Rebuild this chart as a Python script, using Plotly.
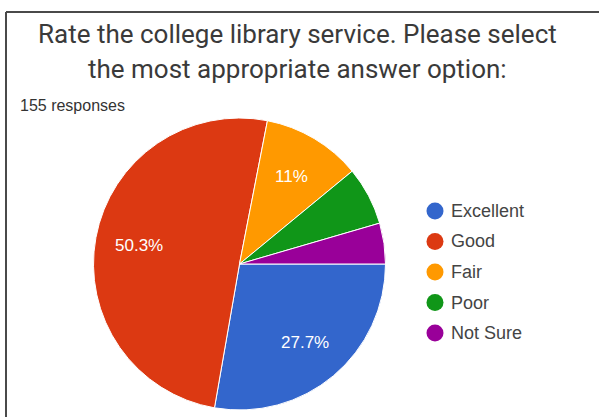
import math
import plotly.graph_objects as go

W, H = 599, 417

categories = ["Excellent", "Good", "Fair", "Poor", "Not Sure"]
responses = [43, 78, 17, 10, 7]
colors = ["#3366CC", "#DC3912", "#FF9900", "#109618", "#990099"]
show_label = [True, True, True, False, False]
title_lines = ["Rate the college library service. Please select",
               "the most appropriate answer option:"]
subtitle = "155 responses"

def px(x):
    return x / W

def py(y):
    return 1 - y / H

# pie box in pixels
PX0, PX1, PY0, PY1 = 92, 387, 118, 410

fig = go.Figure()
fig.add_trace(go.Pie(
    labels=categories,
    values=responses,
    sort=False,
    direction="clockwise",
    rotation=90,
    marker=dict(colors=colors, line=dict(color="white", width=1)),
    textinfo="none",
    domain=dict(x=[px(PX0), px(PX1)], y=[py(PY1), py(PY0)]),
    showlegend=False,
    hoverinfo="label+percent+value",
))

annotations = []

# slice percentage labels (Google-Forms style, at 0.7 radius along mid-angle)
cx, cy = (PX0 + PX1) / 2, (PY0 + PY1) / 2
R = min(PX1 - PX0, PY1 - PY0) / 2
total = sum(responses)
start = 0.0
for v, show in zip(responses, show_label):
    frac = v / total
    mid = start - frac * 180.0
    start -= frac * 360.0
    if not show:
        continue
    pct = f"{frac * 100:.1f}".rstrip("0").rstrip(".") + "%"
    lx = cx + 0.7 * R * math.cos(math.radians(mid))
    ly = cy - 0.7 * R * math.sin(math.radians(mid))
    annotations.append(dict(
        text=pct, x=px(lx), y=py(ly), xref="paper", yref="paper",
        xanchor="center", yanchor="middle", showarrow=False,
        font=dict(family="Arial, Liberation Sans, sans-serif", size=17, color="white"),
    ))

for i, line in enumerate(title_lines):
    annotations.append(dict(
        text=line, x=px(297), y=py(34 + 35 * i), xref="paper", yref="paper",
        xanchor="center", yanchor="middle", showarrow=False,
        font=dict(family="Roboto, Arial, sans-serif", size=26, color="#3a3a3a"),
    ))
annotations.append(dict(
    text=subtitle, x=px(18), y=py(106), xref="paper", yref="paper",
    xanchor="left", yanchor="middle", showarrow=False,
    font=dict(family="Arial, Liberation Sans, sans-serif", size=16, color="#333333"),
))

shapes = [
    dict(type="line", xref="paper", yref="paper", x0=px(6), x1=1, y0=py(12), y1=py(12),
         line=dict(color="#4a4a4a", width=2)),
    dict(type="line", xref="paper", yref="paper", x0=px(6), x1=px(6), y0=py(12), y1=0,
         line=dict(color="#4a4a4a", width=2)),
]

leg_x, leg_y0, leg_dy, r = 435, 211, 30.5, 8.5
for i, (cat, col) in enumerate(zip(categories, colors)):
    cy_l = leg_y0 + leg_dy * i
    shapes.append(dict(type="circle", xref="paper", yref="paper",
                       x0=px(leg_x - r), x1=px(leg_x + r), y0=py(cy_l + r), y1=py(cy_l - r),
                       fillcolor=col, line=dict(width=0)))
    annotations.append(dict(
        text=cat, x=px(leg_x + 14), y=py(cy_l), xref="paper", yref="paper",
        xanchor="left", yanchor="middle", showarrow=False,
        font=dict(family="Arial, Liberation Sans, sans-serif", size=18, color="#444444"),
    ))

fig.update_layout(
    width=W, height=H,
    margin=dict(l=0, r=0, t=0, b=0),
    paper_bgcolor="white", plot_bgcolor="white",
    annotations=annotations, shapes=shapes,
)

fig.write_html("out.html", config={"displayModeBar": False},
               post_script="document.body.style.margin='0';")
